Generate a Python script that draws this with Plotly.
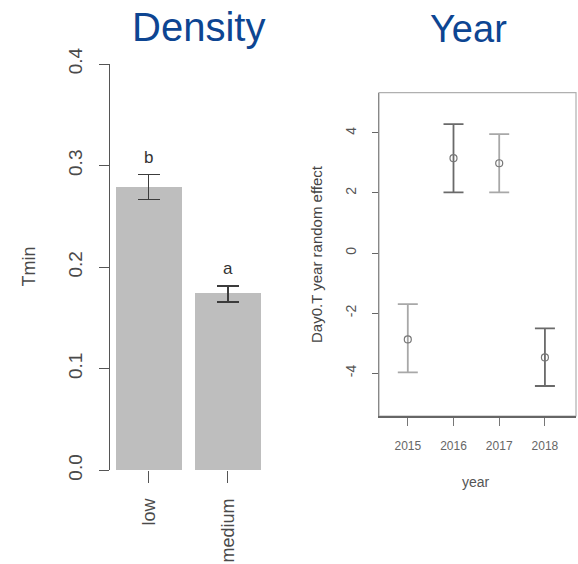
import plotly.graph_objects as go

# ---------------- data ----------------
density_levels = ["low", "medium"]
tmin_mean = [0.279, 0.1744]
tmin_upper = [0.2912, 0.1816]
tmin_lower = [0.2667, 0.1655]
sig_letters = ["b", "a"]

years = [2015, 2016, 2017, 2018]
year_effect = [-2.88, 3.16, 2.99, -3.48]
year_upper = [-1.70, 4.29, 3.96, -2.51]
year_lower = [-3.98, 2.02, 2.02, -4.43]

yticks_left = [0.0, 0.1, 0.2, 0.3, 0.4]
yticks_right = [-4, -2, 0, 2, 4]

# ---------------- layout helpers ----------------
W, H = 578, 564
FONT = "Liberation Sans, Arial, sans-serif"
TXT = "#4a4a4a"
AX = "#555555"


def px_x(p):
    return p / W


def px_y(p):
    return 1 - p / H


fig = go.Figure()

# ---- left panel: bars ----
xpos = list(range(len(density_levels)))
fig.add_trace(go.Bar(
    x=xpos, y=tmin_mean, width=0.834,
    marker=dict(color="#BEBEBE", line=dict(width=0)),
    error_y=dict(type="data", symmetric=False,
                 array=[u - m for u, m in zip(tmin_upper, tmin_mean)],
                 arrayminus=[m - l for m, l in zip(tmin_mean, tmin_lower)],
                 color="#3c3c3c", thickness=1.6, width=11),
    xaxis="x", yaxis="y", showlegend=False, hoverinfo="skip",
))

for xi, up, lab in zip(xpos, tmin_upper, sig_letters):
    fig.add_annotation(x=xi, y=up, xref="x", yref="y", text=lab,
                       showarrow=False, xanchor="center", yanchor="middle", yshift=17,
                       font=dict(family=FONT, size=17, color="#333333"))

# ---- right panel: point + error bars ----
err_colors = ["#a8a8a8", "#6a6a6a", "#a8a8a8", "#6a6a6a"]
for yr, m, up, lo, c in zip(years, year_effect, year_upper, year_lower, err_colors):
    fig.add_trace(go.Scatter(
        x=[yr], y=[m], mode="markers",
        marker=dict(symbol="circle-open", size=7, color="#777777",
                    line=dict(width=1.2, color="#777777")),
        error_y=dict(type="data", symmetric=False, array=[up - m],
                     arrayminus=[m - lo], color=c, thickness=1.8, width=10),
        xaxis="x2", yaxis="y2", showlegend=False, hoverinfo="skip",
    ))

fig.update_layout(
    width=W, height=H,
    margin=dict(l=0, r=0, t=0, b=0, autoexpand=False),
    paper_bgcolor="white", plot_bgcolor="white",
    font=dict(family=FONT, color=TXT),
    bargap=0,
    xaxis=dict(
        domain=[px_x(110), px_x(266)], range=[-0.489, 1.483],
        tickvals=xpos, ticktext=density_levels, tickangle=-90,
        ticks="outside", ticklen=12, tickcolor=AX, tickwidth=1.2,
        showline=False, showgrid=False, zeroline=False, automargin=False,
        tickfont=dict(family=FONT, size=18, color=TXT),
        ticklabelstandoff=8, fixedrange=True,
    ),
    yaxis=dict(
        domain=[px_y(470.3), px_y(64)], range=[0, 0.4],
        tickvals=yticks_left, ticktext=["0.0", "0.1", "0.2", "0.3", "0.4"],
        tickangle=-90,
        ticks="outside", ticklen=10, tickcolor=AX, tickwidth=1.2,
        showline=True, linecolor=AX, linewidth=1.2,
        showgrid=False, zeroline=False, automargin=False,
        tickfont=dict(family=FONT, size=19, color=TXT),
        ticklabelstandoff=9, fixedrange=True,
    ),
    xaxis2=dict(
        domain=[px_x(379), px_x(576)], range=[2014.37, 2018.68],
        tickvals=years, ticktext=[str(y) for y in years],
        ticks="outside", ticklen=8, tickcolor="#777777", tickwidth=1.2,
        showline=True, linecolor="#666666", linewidth=1.5, anchor="y2",
        showgrid=False, zeroline=False, automargin=False,
        tickfont=dict(family=FONT, size=12, color="#666666"),
        ticklabelstandoff=10, fixedrange=True,
    ),
    yaxis2=dict(
        domain=[px_y(416), px_y(92.7)], range=[-5.43, 5.34],
        tickvals=yticks_right, ticktext=[str(v) for v in yticks_right],
        tickangle=-90, anchor="x2",
        ticks="outside", ticklen=6, tickcolor="#666666", tickwidth=1.2,
        showline=True, linecolor="#888888", linewidth=1.2,
        showgrid=False, zeroline=False, automargin=False,
        tickfont=dict(family=FONT, size=14, color="#555555"),
        ticklabelstandoff=10, fixedrange=True,
    ),
    shapes=[dict(type="rect", xref="x2 domain", yref="y2 domain",
                 x0=0, x1=1, y0=0, y1=1,
                 line=dict(color="#b0b0b0", width=1.2), layer="below")],
)

# titles and axis titles
def label(text, x, y, size, color, angle=0):
    fig.add_annotation(x=px_x(x), y=px_y(y), xref="paper", yref="paper",
                       text=text, showarrow=False, textangle=angle,
                       xanchor="center", yanchor="middle",
                       font=dict(family=FONT, size=size, color=color))


label("Density", 198.5, 27.4, 40, "#0D4592")
label("Year", 468, 29.4, 38, "#0D4592")
label("Tmin", 29, 266.5, 18, TXT, -90)
label("Day0.T year random effect", 316, 254, 15, "#444444", -90)
label("year", 476, 482, 14, "#555555")

fig.write_html("out.html",
               config={"displayModeBar": False},
               post_script="document.body.style.margin='0px';document.body.style.overflow='hidden';")
